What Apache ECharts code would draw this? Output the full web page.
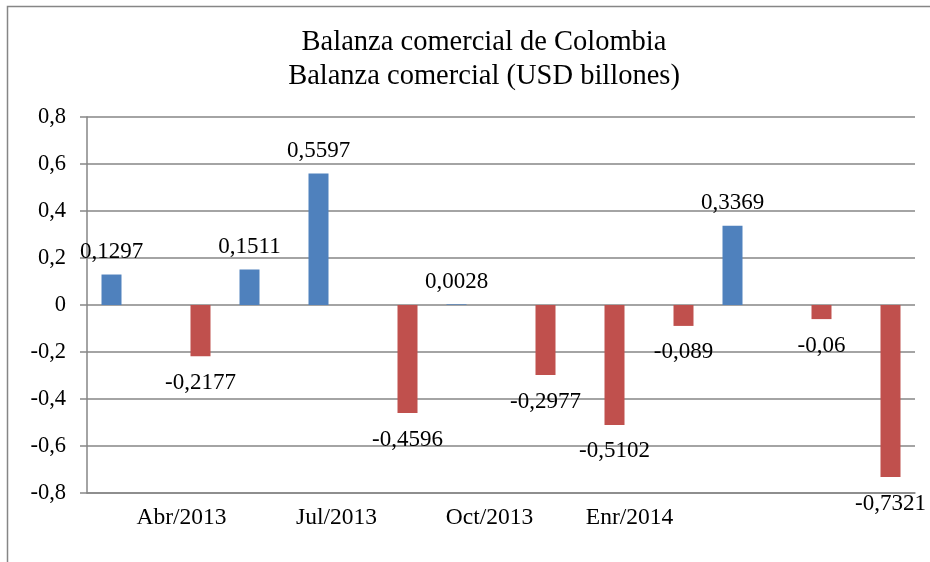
<!DOCTYPE html>
<html>
<head>
<meta charset="utf-8">
<script src="https://cdn.jsdelivr.net/npm/echarts@6/dist/echarts.min.js"></script>
<style>html,body{margin:0;padding:0;background:#fff;}#c{width:930px;height:562px;}</style>
</head>
<body>
<div id="c"></div>
<script>
// Months (Mar/2013 .. Feb/2014)
var categories = ['Mar/2013','Abr/2013','May/2013','Jun/2013','Jul/2013','Ago/2013','Sep/2013','Oct/2013','Nov/2013','Dic/2013','Enr/2014','Feb/2014'];
// Axis tick labels as they appear on the picture (one slot per category)
var tickLabels = ['', 'Abr/2013', '', 'Jul/2013', '', 'Oct/2013', '', 'Enr/2014', '', '', '', ''];
var tickShift = [0, -9, 0, 8, 0, 23, 0, 25, 0, 0, 0, 0];
// Surplus months (blue) and deficit months (red), USD billions
var surplus = [0.1297, '-', 0.1511, 0.5597, '-', 0.0028, '-', '-', '-', 0.3369, '-', '-'];
var deficit = ['-', -0.2177, '-', '-', -0.4596, '-', -0.2977, -0.5102, -0.089, '-', -0.06, -0.7321];
var yTicks = [-0.8, -0.6, -0.4, -0.2, 0, 0.2, 0.4, 0.6, 0.8];

var FONT = 'Liberation Serif';
var GRAY = '#868686';
function comma(v) { return String(v).replace('.', ','); }

var rich = {};
tickShift.forEach(function (s, i) {
  rich['s' + i] = {
    fontFamily: FONT, fontSize: 23.5, color: '#000',
    padding: s >= 0 ? [0, 0, 0, 2 * s] : [0, -2 * s, 0, 0]
  };
});

var chart = echarts.init(document.getElementById('c'), null, { renderer: 'canvas' });
chart.setOption({
  animation: false,
  backgroundColor: '#fff',
  title: {
    text: 'Balanza comercial de Colombia\nBalanza comercial (USD billones)',
    left: 484, top: 26, textAlign: 'center', padding: 0,
    textStyle: { fontFamily: FONT, fontSize: 28.5, fontWeight: 'normal', color: '#000', lineHeight: 34 }
  },
  graphic: [{
    type: 'rect', silent: true, z: -1,
    shape: { x: 7.5, y: 6.5, width: 1000, height: 1000 },
    style: { fill: null, stroke: GRAY, lineWidth: 1.5 }
  }],
  grid: { left: 87, right: 15, top: 117, bottom: 69, containLabel: false },
  xAxis: {
    type: 'category',
    data: categories,
    position: 'bottom',
    axisLine: { onZero: false, lineStyle: { color: GRAY, width: 1.5 } },
    axisTick: { show: false },
    axisLabel: {
      interval: 0, margin: 13,
      formatter: function (v, i) { return tickLabels[i] ? '{s' + i + '|' + tickLabels[i] + '}' : ''; },
      rich: rich
    }
  },
  yAxis: {
    type: 'value',
    min: yTicks[0], max: yTicks[yTicks.length - 1], interval: 0.2,
    axisLine: { show: true, lineStyle: { color: GRAY, width: 1.5 } },
    axisTick: { show: true, length: 7, lineStyle: { color: GRAY, width: 1.5 } },
    splitLine: { show: true, lineStyle: { color: GRAY, width: 1.5 } },
    axisLabel: {
      margin: 21, fontFamily: FONT, fontSize: 22.5, color: '#000',
      formatter: function (v) { var r = Math.round(v * 10) / 10; return r === 0 ? '0' : comma(r); }
    }
  },
  series: [{
    name: 'Superávit', type: 'bar', data: surplus,
    barWidth: 20, barGap: '0%',
    itemStyle: { color: '#4F81BD' },
    label: {
      show: true, position: 'top', distance: 11,
      fontFamily: FONT, fontSize: 23, color: '#000',
      formatter: function (p) { return comma(p.value); }
    }
  }, {
    name: 'Déficit', type: 'bar', data: deficit,
    barWidth: 20, barGap: '0%',
    itemStyle: { color: '#C0504D' },
    label: {
      show: true, position: 'bottom', distance: 15,
      fontFamily: FONT, fontSize: 23, color: '#000',
      formatter: function (p) { return comma(p.value); }
    }
  }]
});
</script>
</body>
</html>
